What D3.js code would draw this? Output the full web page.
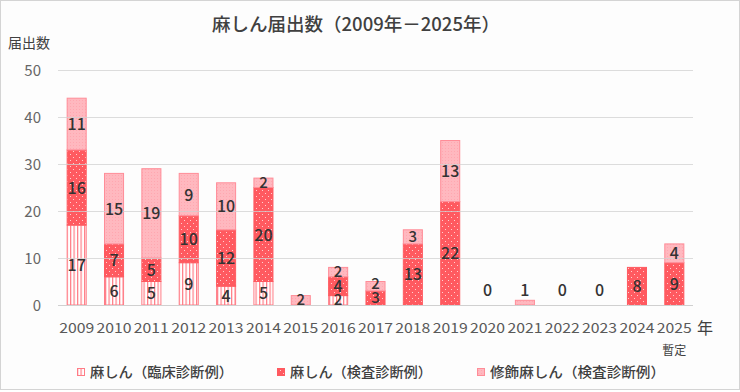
<!DOCTYPE html>
<html><head><meta charset="utf-8">
<script src="https://cdn.jsdelivr.net/npm/d3@7/dist/d3.min.js"></script>
<style>html,body{margin:0;padding:0;background:#fff}svg{display:block}</style>
</head><body>
<script>
const years = ["2009","2010","2011","2012","2013","2014","2015","2016","2017","2018","2019","2020","2021","2022","2023","2024","2025"];
const clinical = [17,6,5,9,4,5,0,2,0,0,0,0,0,0,0,0,0];
const lab      = [16,7,5,10,12,20,0,4,3,13,22,0,0,0,0,8,9];
const modified = [11,15,19,9,10,2,2,2,2,3,13,0,1,0,0,0,4];
const seriesNames = ["麻しん（臨床診断例）","麻しん（検査診断例）","修飾麻しん（検査診断例）"];
const yTicks = [0,10,20,30,40,50];
const title = "麻しん届出数（2009年－2025年）";

const W = 740, H = 392;
const font = "'Noto Sans CJK JP','Noto Sans',sans-serif";
const svg = d3.select("body").append("svg").attr("width", W).attr("height", H);
svg.append("rect").attr("x",0.5).attr("y",0.5).attr("width",W-1).attr("height",389)
  .attr("fill","#fdfdfd").attr("stroke","#d4d4d4");

const defs = svg.append("defs");
const pS = defs.append("pattern").attr("id","stripe").attr("patternUnits","userSpaceOnUse").attr("width",3.5).attr("height",4);
pS.append("rect").attr("width",3.5).attr("height",4).attr("fill","#fff");
pS.append("rect").attr("x",0).attr("width",1.2).attr("height",4).attr("fill","#ff7c86");
const pD = defs.append("pattern").attr("id","dots").attr("patternUnits","userSpaceOnUse").attr("width",6).attr("height",6);
pD.append("rect").attr("width",6).attr("height",6).attr("fill","#ff5a60");
pD.append("rect").attr("x",1).attr("y",1).attr("width",1).attr("height",1).attr("fill","#ffd0d0");
pD.append("rect").attr("x",4).attr("y",4).attr("width",1).attr("height",1).attr("fill","#ffd0d0");
const pP = defs.append("pattern").attr("id","pink").attr("patternUnits","userSpaceOnUse").attr("width",3).attr("height",3);
pP.append("rect").attr("width",3).attr("height",3).attr("fill","#ffb8bf");
pP.append("rect").attr("x",1).attr("y",1).attr("width",1).attr("height",1).attr("fill","#ffa7b0");
const fills = ["url(#stripe)","url(#dots)","url(#pink)"];
const strokes = ["#ff7c86","#ff5a60","#ff8d98"];

const x = d3.scaleBand().domain(years).range([58,693]).paddingInner(0.49).paddingOuter(0.245);
const y = d3.scaleLinear().domain([0,50]).range([305,70]);

// title
svg.append("text").attr("x",356).attr("y",31).attr("text-anchor","middle")
  .attr("font-family",font).attr("font-size",18).attr("font-weight",500).attr("fill","#404040")
  .attr("textLength",288).attr("lengthAdjust","spacingAndGlyphs").text(title);
svg.append("text").attr("x",8).attr("y",48).attr("font-family",font).attr("font-size",14)
  .attr("fill","#404040").text("届出数");

// y tick labels
svg.append("g").selectAll("text").data(yTicks).join("text")
  .attr("x",41).attr("y",d=>y(d)+5.5).attr("text-anchor","end")
  .attr("font-family",font).attr("font-size",15).attr("fill","#666").text(d=>d);

// stacked data
const rows = years.map((yr,i)=>({year:yr, c:clinical[i], l:lab[i], m:modified[i]}));
const stack = d3.stack().keys(["c","l","m"])(rows);
const gBars = svg.append("g");
stack.forEach((s,si)=>{
  gBars.selectAll(null).data(s.filter(d=>d[1]-d[0]>0)).join("rect")
    .attr("x",d=>x(d.data.year)).attr("width",x.bandwidth())
    .attr("y",d=>y(d[1])).attr("height",d=>y(d[0])-y(d[1]))
    .attr("fill",fills[si]).attr("stroke",strokes[si]).attr("stroke-width",1);
});

// gridlines
svg.append("g").selectAll("line").data(yTicks).join("line")
  .attr("x1",58).attr("x2",693).attr("y1",d=>Math.round(y(d))+0.5).attr("y2",d=>Math.round(y(d))+0.5)
  .attr("stroke","#d0d0d0").attr("stroke-opacity",d=>d===0?1:0.75).attr("stroke-width",1);

// labels
const gL = svg.append("g").attr("font-family",font).attr("font-weight",500)
  .attr("fill","#333").attr("text-anchor","middle");
rows.forEach(r=>{
  const tot = r.c + r.l + r.m;
  const cx = x(r.year) + x.bandwidth()/2;
  if (tot < 2) {
    gL.append("text").attr("x",cx).attr("y",y(3.2)+6).attr("font-size",16).text(tot);
    return;
  }
  let base = 0, lastY = Infinity;
  [r.c,r.l,r.m].forEach(v=>{
    if (v>0) {
      let ly = y(base+v/2);
      if (ly > lastY - 14) ly = lastY - 14;
      const small = (y(base)-y(base+v)) < 16;
      gL.append("text").attr("x",cx).attr("y",ly+(small?5:6)).attr("font-size",small?15:16).text(v);
      lastY = ly;
    }
    base += v;
  });
});

// x labels
svg.append("g").selectAll("text").data(years).join("text")
  .attr("x",d=>x(d)+x.bandwidth()/2).attr("y",333).attr("text-anchor","middle")
  .attr("font-family",font).attr("font-size",14).attr("fill","#595959")
  .attr("textLength",35).attr("lengthAdjust","spacingAndGlyphs").text(d=>d);
svg.append("text").attr("x",697).attr("y",334).attr("font-family",font).attr("font-size",16)
  .attr("fill","#404040").text("年");
svg.append("text").attr("x",x("2025")+x.bandwidth()/2).attr("y",355).attr("text-anchor","middle")
  .attr("font-family",font).attr("font-size",12).attr("fill","#404040").text("暫定");

// legend
const legX = [77,277,477];
const legLen = [143,142,175];
const gLeg = svg.append("g");
seriesNames.forEach((n,i)=>{
  gLeg.append("rect").attr("x",legX[i]+0.5).attr("y",368.5).attr("width",7).attr("height",7)
    .attr("fill",fills[i]).attr("stroke",strokes[i]);
  gLeg.append("text").attr("x",legX[i]+13).attr("y",377).attr("font-family",font).attr("font-size",14)
    .attr("font-weight",500).attr("fill","#404040")
    .attr("textLength",legLen[i]).attr("lengthAdjust","spacingAndGlyphs").text(n);
});
</script>
</body></html>
